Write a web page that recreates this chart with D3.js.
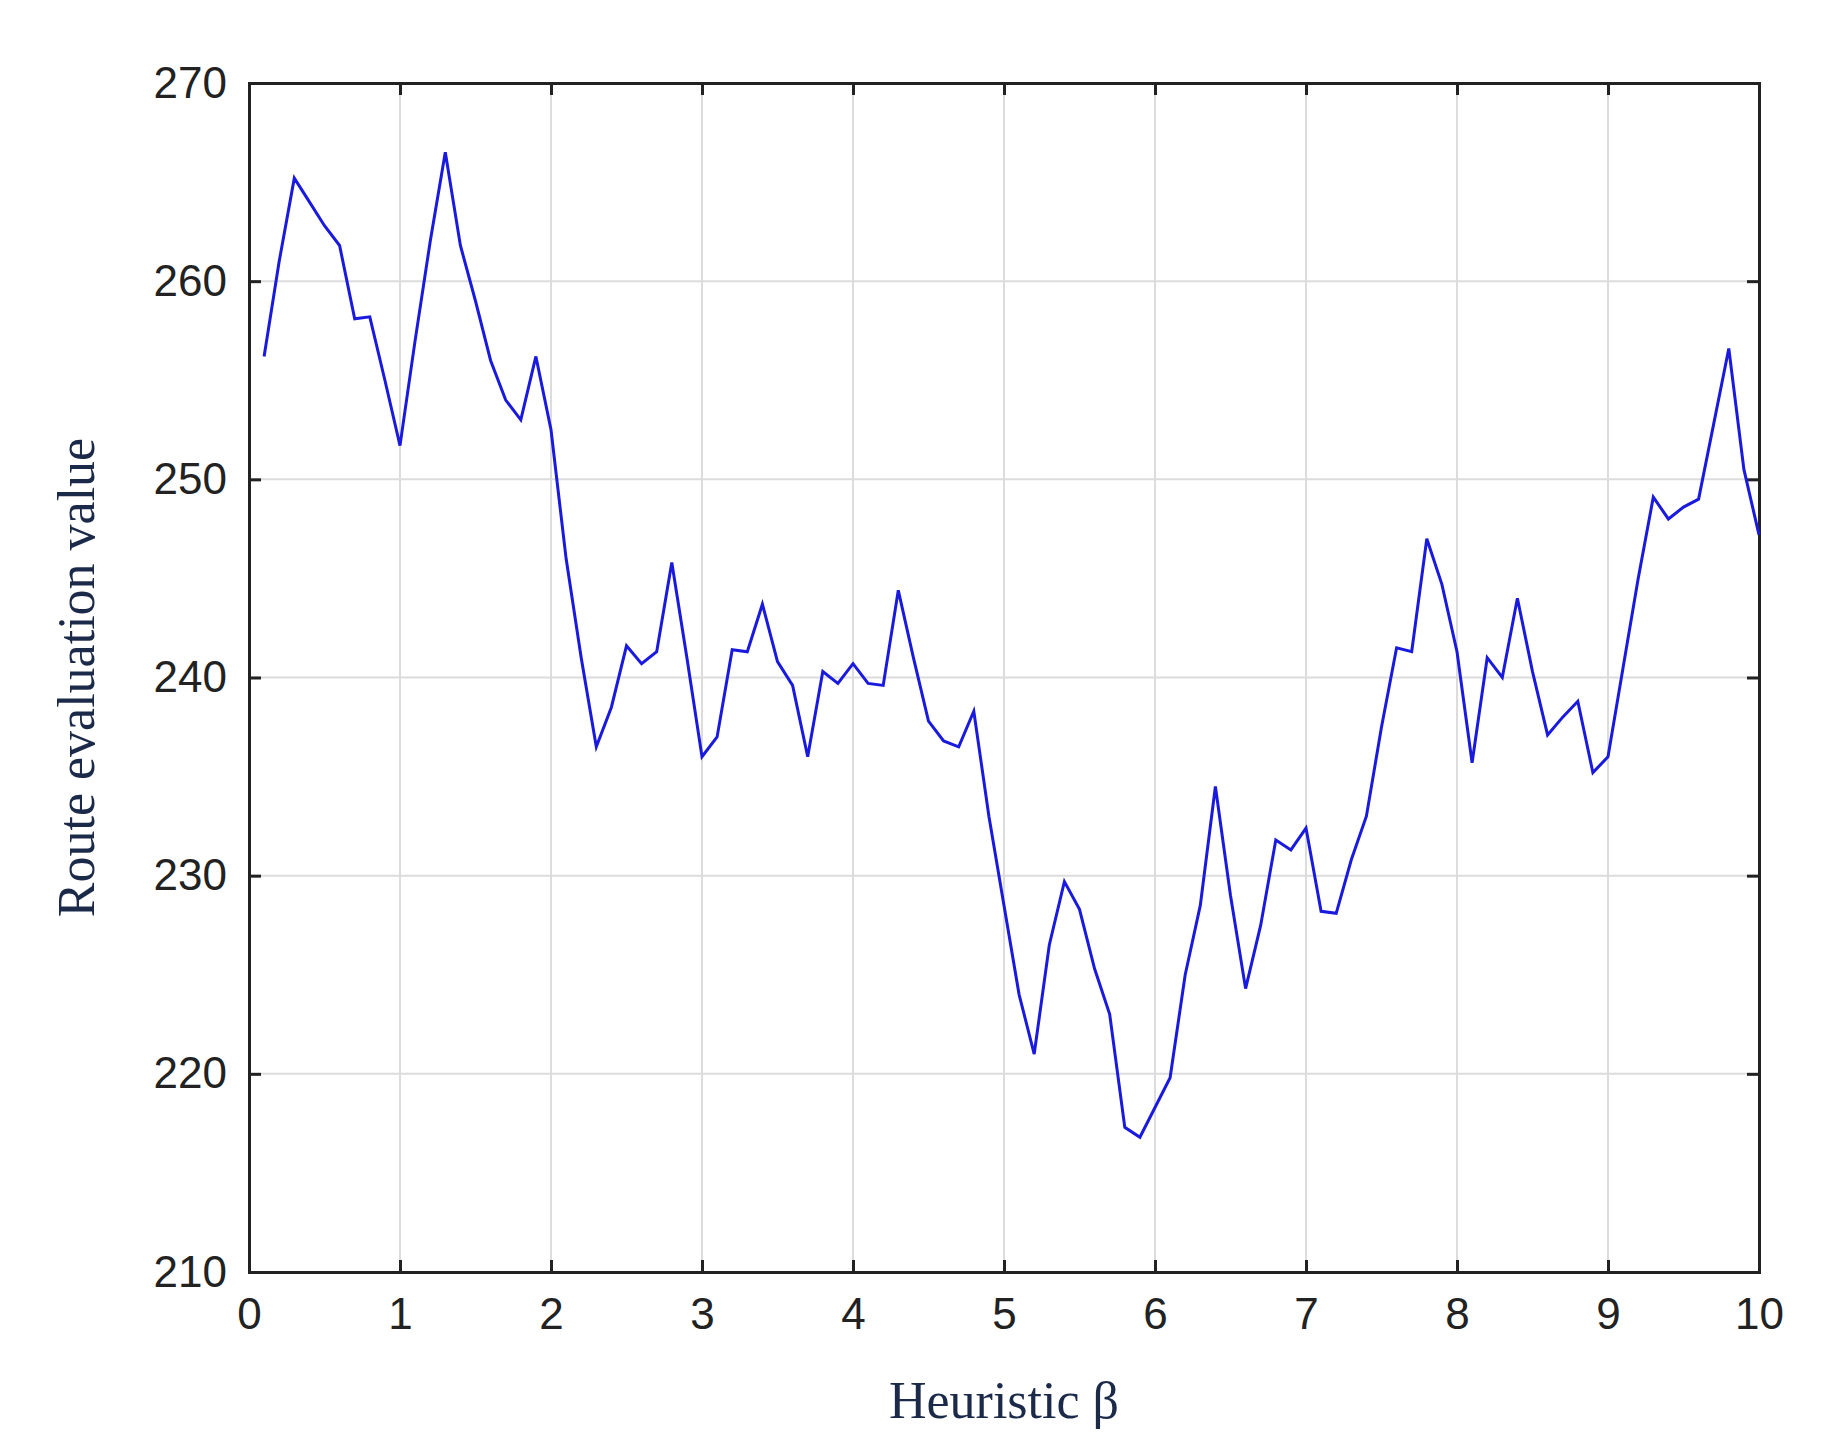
<!DOCTYPE html>
<html>
<head>
<meta charset="utf-8">
<script src="https://cdn.jsdelivr.net/npm/d3@7"></script>
<style>
  body { margin: 0; background: #fff; }
</style>
</head>
<body>
<svg id="chart" width="1840" height="1455"></svg>
<script>
// beta values 0.1 .. 10.0
var betas = [0.1,0.2,0.3,0.4,0.5,0.6,0.7,0.8,0.9,1.0,1.1,1.2,1.3,1.4,1.5,1.6,1.7,1.8,1.9,2.0,
  2.1,2.2,2.3,2.4,2.5,2.6,2.7,2.8,2.9,3.0,3.1,3.2,3.3,3.4,3.5,3.6,3.7,3.8,3.9,4.0,
  4.1,4.2,4.3,4.4,4.5,4.6,4.7,4.8,4.9,5.0,5.1,5.2,5.3,5.4,5.5,5.6,5.7,5.8,5.9,6.0,
  6.1,6.2,6.3,6.4,6.5,6.6,6.7,6.8,6.9,7.0,7.1,7.2,7.3,7.4,7.5,7.6,7.7,7.8,7.9,8.0,
  8.1,8.2,8.3,8.4,8.5,8.6,8.7,8.8,8.9,9.0,9.1,9.2,9.3,9.4,9.5,9.6,9.7,9.8,9.9,10.0];

var routeValues = [256.2,261,265.2,264,262.8,261.8,258.1,258.2,255,251.7,
  257,262,266.5,261.8,259,256,254,253,256.2,252.5,
  246,241,236.5,238.5,241.6,240.7,241.3,245.8,241,236,
  237,241.4,241.3,243.7,240.8,239.6,236,240.3,239.7,240.7,
  239.7,239.6,244.4,241,237.8,236.8,236.5,238.3,233,228.5,
  224,221,226.5,229.7,228.3,225.3,223,217.3,216.8,218.3,
  219.8,225,228.5,234.5,229,224.3,227.5,231.8,231.3,232.4,
  228.2,228.1,230.8,233,237.5,241.5,241.3,247,244.7,241.3,
  235.7,241,240,244,240.3,237.1,238,238.8,235.2,236,
  240.5,245,249.1,248,248.6,249,252.8,256.6,250.5,247.2];

var xTicks = [0,1,2,3,4,5,6,7,8,9,10];
var yTicks = [210,220,230,240,250,260,270];

var mLeft = 249, mRight = 1759, mTop = 83, mBottom = 1272;
var svg = d3.select("#chart");

var x = d3.scaleLinear().domain([0, 10]).range([mLeft, mRight]);
var y = d3.scaleLinear().domain([210, 270]).range([mBottom, mTop]);

// grid
svg.append("g").selectAll("line").data(xTicks.slice(1, -1)).enter().append("line")
  .attr("x1", d => x(d)).attr("x2", d => x(d)).attr("y1", mTop).attr("y2", mBottom)
  .attr("stroke", "#dcdcdc").attr("stroke-width", 2);
svg.append("g").selectAll("line").data(yTicks.slice(1, -1)).enter().append("line")
  .attr("x1", mLeft).attr("x2", mRight).attr("y1", d => y(d)).attr("y2", d => y(d))
  .attr("stroke", "#dcdcdc").attr("stroke-width", 2);

// axes
svg.append("g").attr("transform", "translate(0," + mBottom + ")")
  .call(d3.axisBottom(x).tickValues(xTicks).tickSize(-12).tickPadding(26).tickFormat(d3.format("d")));
svg.append("g").attr("transform", "translate(" + mLeft + ",0)")
  .call(d3.axisLeft(y).tickValues(yTicks).tickSize(-12).tickPadding(22).tickFormat(d3.format("d")));
svg.append("g").attr("transform", "translate(0," + mTop + ")")
  .call(d3.axisTop(x).tickValues(xTicks).tickSize(-12).tickFormat(""));
svg.append("g").attr("transform", "translate(" + mRight + ",0)")
  .call(d3.axisRight(y).tickValues(yTicks).tickSize(-12).tickFormat(""));

svg.selectAll(".domain").attr("stroke", "#222").attr("stroke-width", 3);
svg.selectAll(".tick line").attr("stroke", "#222").attr("stroke-width", 3);
svg.selectAll(".tick text").attr("font-family", "Liberation Sans, Arial, sans-serif")
  .attr("font-size", 44).attr("fill", "#222");

// line
var line = d3.line().x((d, i) => x(betas[i])).y(d => y(d));
svg.append("path").datum(routeValues)
  .attr("d", line).attr("fill", "none")
  .attr("stroke", "#1a1adf").attr("stroke-width", 3);

// labels
svg.append("text").attr("x", (mLeft + mRight) / 2).attr("y", 1418)
  .attr("text-anchor", "middle").attr("font-family", "Liberation Serif, Times New Roman, serif")
  .attr("font-size", 52).attr("fill", "#1c2a4a").text("Heuristic β");
svg.append("text").attr("transform", "translate(94," + ((mTop + mBottom) / 2) + ") rotate(-90)")
  .attr("text-anchor", "middle").attr("font-family", "Liberation Serif, Times New Roman, serif")
  .attr("font-size", 52).attr("fill", "#1c2a4a").text("Route evaluation value");
</script>
</body>
</html>
